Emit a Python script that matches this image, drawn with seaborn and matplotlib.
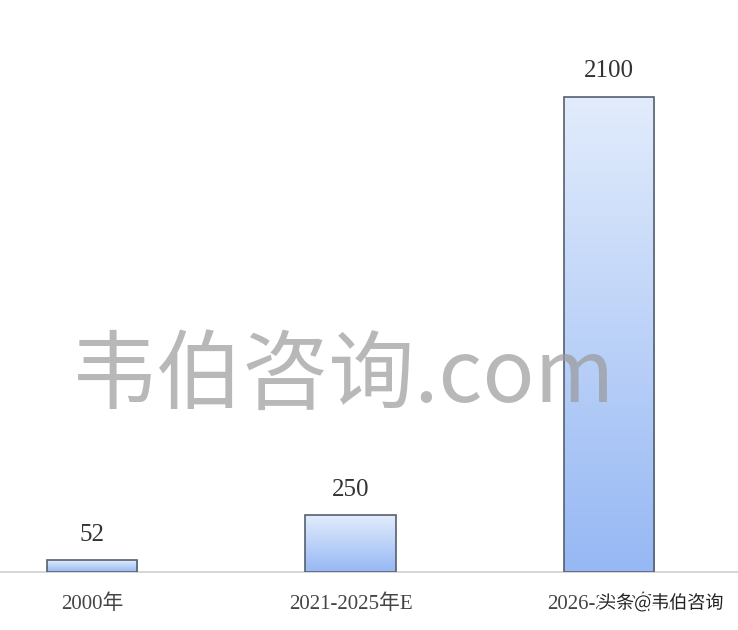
import numpy as np
import pandas as pd
import matplotlib
matplotlib.use("Agg")
import matplotlib.pyplot as plt
import seaborn as sns
import matplotlib.patheffects as pe
from matplotlib.colors import LinearSegmentedColormap

sns.set_theme(style="white")
plt.rcParams['font.family'] = ['Liberation Serif', 'Noto Sans CJK SC']

# data
periods = ["2000年", "2021-2025年E", "2026-2030年E"]
values = [52, 250, 2100]

df = pd.DataFrame({"period": periods, "value": values})

fig = plt.figure(figsize=(7.38, 6.3), dpi=100)
ax = fig.add_axes([0, 58 / 630, 1, 572 / 630])

sns.barplot(data=df, x="period", y="value", width=0.35, color="#b5cdf7",
            edgecolor="#55606f", linewidth=1.2, ax=ax)

# gradient fill inside each bar
cmap = LinearSegmentedColormap.from_list("g", ["#96b8f4", "#e2ecfc"])
grad = np.linspace(0, 1, 256).reshape(-1, 1)
for p in ax.patches:
    x0, y0 = p.get_x(), p.get_y()
    w, h = p.get_width(), p.get_height()
    im = ax.imshow(grad, cmap=cmap, aspect="auto", origin="lower",
                   extent=[x0, x0 + w, y0, y0 + h], zorder=p.get_zorder() - 0.1)
    im.set_clip_path(p)
    p.set_facecolor("none")
    p.set_zorder(3)
ax.set_xlim(-0.356, 2.499)
ax.set_ylim(0, 2529)

# value labels
for i, v in enumerate(values):
    ax.text(i, v + 65, str(v), ha="center", va="bottom", fontsize=18,
            color="#333333", family=["Liberation Serif", "Noto Sans CJK SC"])

for s in ["top", "right", "left"]:
    ax.spines[s].set_visible(False)
ax.spines["bottom"].set_color("#cfcfcf")
ax.spines["bottom"].set_linewidth(1.2)
ax.set_yticks([])
ax.set_xlabel("")
ax.set_ylabel("")
ax.tick_params(axis="x", length=0, pad=16, labelsize=15, labelcolor="#444444")
for t in ax.get_xticklabels():
    t.set_family(["Liberation Serif", "Noto Sans CJK SC"])

# watermarks
fig.text(0.465, 0.40, "韦伯咨询.com", ha="center", va="center", fontsize=62,
         color="#9a9a9a", alpha=0.7, family=["Noto Sans CJK SC", "DejaVu Sans"], zorder=10)
fig.text(0.895, 0.043, "头条@韦伯咨询", ha="center", va="center", fontsize=13,
         color="#222222", family=["Noto Sans CJK SC", "DejaVu Sans"], zorder=10,
         path_effects=[pe.withStroke(linewidth=3, foreground="white")])

fig.savefig("out.png", dpi=100, facecolor="white")
